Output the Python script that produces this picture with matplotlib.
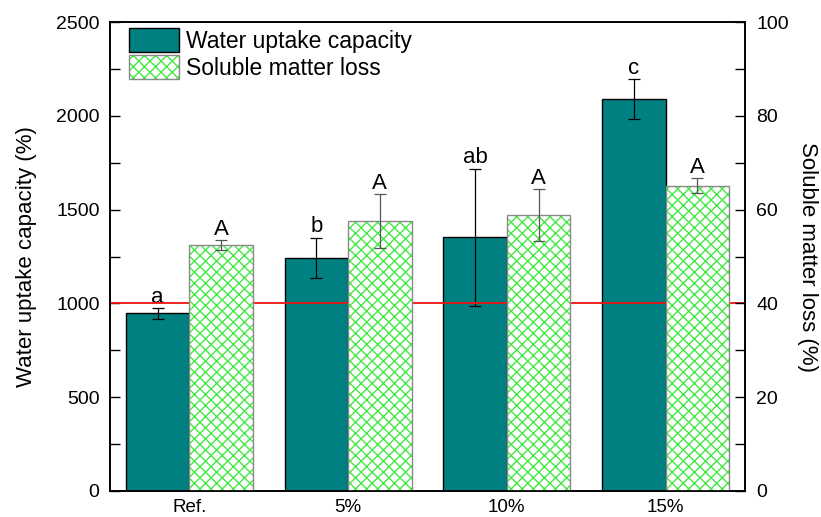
import matplotlib
matplotlib.use("Agg")
import matplotlib.pyplot as plt
import numpy as np
from matplotlib.patches import Patch
from matplotlib.legend_handler import HandlerTuple

plt.rcParams["font.family"] = ["Liberation Sans", "DejaVu Sans"]
plt.rcParams["hatch.linewidth"] = 1.0

categories = ["Ref.", "5%", "10%", "15%"]
water_uptake = [947, 1243, 1352, 2090]
water_err = [28, 106, 365, 105]
water_letters = ["a", "b", "ab", "c"]
soluble_loss = [52.4, 57.6, 58.8, 65.1]
soluble_err = [1.1, 5.7, 5.5, 1.6]
soluble_letters = ["A", "A", "A", "A"]
threshold = 1000

teal = "#008080"
green = "#44e844"
grey = "#8a8a8a"

fig = plt.figure(figsize=(8.21, 5.17), dpi=100)
ax = fig.add_axes([0.134, 0.0503, 0.7734, 0.9071])
ax2 = ax.twinx()

x = np.arange(1, len(categories) + 1)
w = 0.4

ax.bar(x - w / 2, water_uptake, width=w, color=teal, edgecolor="black",
       linewidth=1.0, zorder=2)
ax.errorbar(x - w / 2, water_uptake, yerr=water_err, fmt="none",
            ecolor="black", elinewidth=0.9, capsize=4.5, capthick=0.9, zorder=3)
for xi, v, e, t in zip(x - w / 2, water_uptake, water_err, water_letters):
    ax.annotate(t, (xi, v + e), xytext=(0, 4), textcoords="offset points",
                ha="center", va="baseline", fontsize=16)

ax.axhline(threshold, color="#ee1111", linewidth=1.3, zorder=4)

ax2.bar(x + w / 2, soluble_loss, width=w, color="white", edgecolor=green,
        hatch="xxx", linewidth=0, zorder=2)
ax2.bar(x + w / 2, soluble_loss, width=w, fill=False, edgecolor=grey,
        linewidth=1.0, zorder=2)
ax2.errorbar(x + w / 2, soluble_loss, yerr=soluble_err, fmt="none",
             ecolor="#555555", elinewidth=0.9, capsize=4.5, capthick=0.9,
             zorder=3)
for xi, v, e, t in zip(x + w / 2, soluble_loss, soluble_err, soluble_letters):
    ax2.annotate(t, (xi, v + e), xytext=(0, 4), textcoords="offset points",
                 ha="center", va="baseline", fontsize=16)

ax.set_xlim(0.5, 4.5)
ax.set_ylim(0, 2500)
ax2.set_ylim(0, 100)
ax.set_xticks(x)
ax.set_xticklabels(categories, fontsize=13.5)
ax.tick_params(axis="x", length=0, pad=6)
ax.set_yticks(np.arange(0, 2501, 500))
ax.set_yticks(np.arange(250, 2500, 500), minor=True)
ax.tick_params(axis="y", which="both", direction="in", length=7, width=1,
               labelsize=14, pad=7.5)
ax2.set_yticks(np.arange(0, 101, 20))
ax2.set_yticks(np.arange(10, 100, 20), minor=True)
ax2.tick_params(axis="y", which="both", direction="in", length=7, width=1,
                labelsize=14, pad=8)

ax.set_ylabel("Water uptake capacity (%)", fontsize=16, labelpad=14)
ax2.set_ylabel("Soluble matter loss (%)", fontsize=16, rotation=270,
               labelpad=21)

for a in (ax, ax2):
    for s in a.spines.values():
        s.set_linewidth(1.2)

h1 = Patch(facecolor=teal, edgecolor="black", linewidth=1.0)
h2a = Patch(facecolor="white", edgecolor=green, hatch="xxx", linewidth=0)
h2b = Patch(fill=False, edgecolor=grey, linewidth=1.0)
ax.legend([h1, (h2a, h2b)], ["Water uptake capacity", "Soluble matter loss"],
          handler_map={tuple: HandlerTuple(ndivide=1, pad=0)},
          loc="upper left", bbox_to_anchor=(0.008, 1.016), frameon=False,
          fontsize=16.5, handlelength=2.2, handleheight=1.2,
          labelspacing=0.12, handletextpad=0.3, borderaxespad=0.3,
          borderpad=0.3)

fig.savefig("out.png", dpi=100)
